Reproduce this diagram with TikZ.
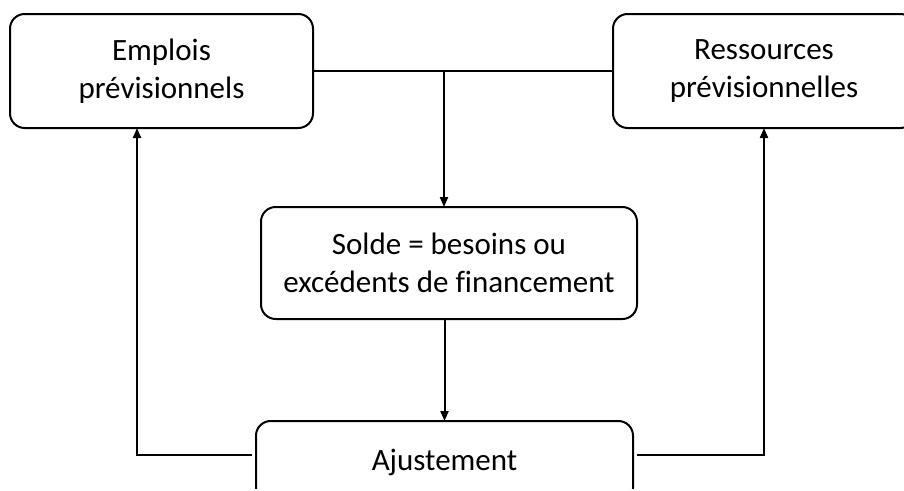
\documentclass[tikz,border=0pt]{standalone}
\usepackage{fontspec}
\setmainfont{Carlito}[Ligatures=NoCommon]
\usetikzlibrary{arrows.meta}
\begin{document}
\begin{tikzpicture}[x=0.75pt,y=-0.75pt,
  box/.style={draw,line width=1.5pt,rounded corners=11pt,inner sep=0pt,outer sep=0pt,
    align=center,font=\fontsize{23.25pt}{28.5pt}\selectfont},
  link/.style={line width=1.5pt},
  arr/.style={line width=1.5pt,-{Triangle[length=7.5pt,width=6pt]}}]
\useasboundingbox (0,0) rectangle (904,490);
\clip (0,0) rectangle (904,488.5);
% the four blocks
\node[box,minimum width=227.25pt,minimum height=85.5pt] (emp) at (161.5,71)
  {Emplois\\prévisionnels};
\node[box,minimum width=226.5pt,minimum height=85.5pt] (res) at (764,71)
  {Ressources\\prévisionnelles};
\node[box,minimum width=282pt,minimum height=84pt] (sol) at (449,263)
  {Solde = besoins ou\\excédents de financement};
\node[box,minimum width=282.75pt,minimum height=61.5pt] (aju) at (444.5,462)
  {Ajustement};
% links between the blocks
\coordinate (jn) at (444,71);
\coordinate (lc) at (137,455);
\draw[link] (emp.east) -- (res.west);
\draw[arr] (jn) -- (jn |- sol.north);
\draw[arr] (aju.north |- sol.south) -- (aju.north);
\draw[arr] ([xshift=-3pt,yshift=5.25pt]aju.west) -| (lc |- emp.south);
\draw[arr] ([xshift=3pt,yshift=5.25pt]aju.east) -| (res.south);
\end{tikzpicture}
\end{document}
